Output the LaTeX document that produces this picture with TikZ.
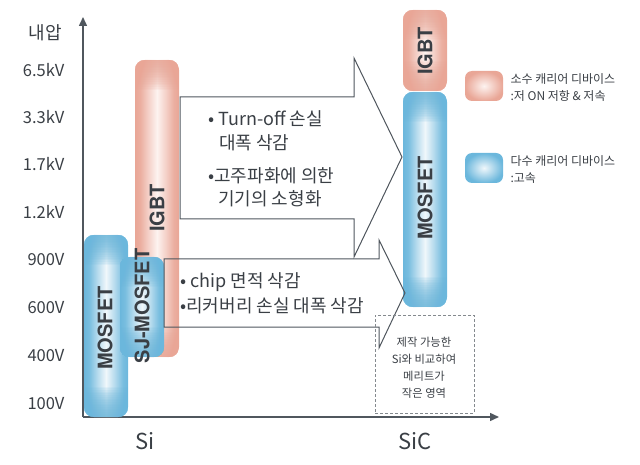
\documentclass[tikz,border=0pt]{standalone}
\usepackage{fontspec}
\setmainfont{Noto Sans CJK KR}
\newfontfamily\labfont{TeX Gyre Heros}
\usetikzlibrary{arrows.meta,calc}
\definecolor{bl}{HTML}{6BB7DC}
\definecolor{bll}{HTML}{F0F7FB}
\definecolor{rd}{HTML}{E9A696}
\definecolor{rdl}{HTML}{FDF3F0}
\definecolor{ax}{HTML}{50575E}
\definecolor{tx}{HTML}{3A3F45}
\definecolor{ln}{HTML}{4F565D}
\pgfdeclarehorizontalshading{blueH}{100bp}{color(0bp)=(bl); color(25bp)=(bl); color(31bp)=(bl!90!white); color(40bp)=(bl!45!bll); color(50bp)=(bll); color(60bp)=(bl!45!bll); color(69bp)=(bl!90!white); color(75bp)=(bl); color(100bp)=(bl)}
\pgfdeclarehorizontalshading{redH}{100bp}{color(0bp)=(rd); color(25bp)=(rd); color(31bp)=(rd!90!white); color(40bp)=(rd!45!rdl); color(50bp)=(rdl); color(60bp)=(rd!45!rdl); color(69bp)=(rd!90!white); color(75bp)=(rd); color(100bp)=(rd)}
\tikzset{
  bar/.style={rounded corners=10pt, minimum width=44pt, inner sep=0pt, draw=none},
  bluebar/.style={bar, shading=blueH},
  redbar/.style={bar, shading=redH},
  barlabel/.style={rotate=90, font=\labfont\bfseries\fontsize{20}{20}\selectfont, text=tx},
  ylab/.style={anchor=east, font=\fontsize{16.5}{16.5}\selectfont, text=tx},
  axisline/.style={draw=ax, line width=1.5pt, -{Triangle[length=9pt,width=8pt]}},
  bigarrow/.style={draw=ln, line width=1pt, line join=miter},
  body/.style={anchor=west, font=\fontsize{18}{18}\selectfont, text=tx, inner sep=0pt},
  small/.style={font=\fontsize{11.3}{17}\selectfont, text=tx, align=center},
  legtext/.style={font=\fontsize{12}{17}\selectfont, text=tx, align=left, anchor=west},
  legbox/.style={rounded corners=7pt, minimum width=38pt, minimum height=30pt, inner sep=0pt, draw=none},
  xlab/.style={font=\fontsize{22}{22}\selectfont, text=tx}
}
% soft colored caps at both ends of a bar (layers of low opacity)
\newcommand{\barcaps}[2]{%
  \begin{scope}
    \clip[rounded corners=10pt] (#2.north west) rectangle (#2.south east);
    \foreach \k in {1,...,18} {
      \fill[#1, opacity=0.095] (#2.north west) rectangle ($(#2.north east)+(0,\k*1.7)$);
      \fill[#1, opacity=0.095] (#2.south west) rectangle ($(#2.south east)+(0,-\k*1.7)$);
    }
  \end{scope}}
\begin{document}
\begin{tikzpicture}[x=1pt,y=-1pt]
\useasboundingbox (0,0) rectangle (640,465);
% axes
\coordinate (O) at (83,417);
\coordinate (Ytop) at (83,17);
\coordinate (Xend) at (499,417);
\draw[axisline] (O) -- (Ytop);
\draw[axisline] (O) -- (Xend);
\node[font=\fontsize{18}{18}\selectfont, text=tx] (ytitle) at (45,33) {내압};
\node[ylab] (y1) at (68,70) {6.5kV};
\node[ylab] (y2) at (68,117) {3.3kV};
\node[ylab] (y3) at (68,164) {1.7kV};
\node[ylab] (y4) at (68,212) {1.2kV};
\node[ylab] (y5) at (68,260) {900V};
\node[ylab] (y6) at (68,308) {600V};
\node[ylab] (y7) at (68,356) {400V};
\node[ylab] (y8) at (68,404) {100V};
\node[xlab] (si) at (145,441) {Si};
\node[xlab] (sic) at (415,441) {SiC};
% Si bars
\node[redbar, minimum height=297pt] (igbtSi) at (157,208.5) {};
\barcaps{rd}{igbtSi}
\node[bluebar, minimum height=182pt] (mosSi) at (106,326) {};
\barcaps{bl}{mosSi}
\node[bluebar, minimum height=100pt] (sjSi) at (142,307) {};
\barcaps{bl}{sjSi}
\node[barlabel] (igbtSiL) at (157,208) {IGBT};
\node[barlabel] (mosSiL) at (105,328) {MOSFET};
\node[barlabel] (sjSiL) at (142,306) {SJ-MOSFET};
% SiC bars
\node[redbar, minimum height=81pt] (igbtSiC) at (425,50.5) {};
\barcaps{rd}{igbtSiC}
\node[bluebar, minimum height=215pt] (mosSiC) at (425,199.5) {};
\barcaps{bl}{mosSiC}
\node[barlabel] (igbtSiCL) at (425,51) {IGBT};
\node[barlabel] (mosSiCL) at (425,198) {MOSFET};
% big arrows
\draw[bigarrow] (180,97) -- (354,97) -- (354,58) -- (402,157) -- (354,257) -- (354,219) -- (180,219) -- cycle;
\draw[bigarrow] (164,259) -- (379,259) -- (379,240) -- (405,293) -- (379,348) -- (379,327) -- (164,327) -- cycle;
\node[body] (t1) at (208,119) {• Turn-off 손실};
\node[body] (t2) at (219,143) {대폭 삭감};
\node[body] (t3) at (208,176) {•고주파화에 의한};
\node[body] (t4) at (218,199) {기기의 소형화};
\node[body] (t5) at (180,282) {• chip 면적 삭감};
\node[body] (t6) at (180,306) {•리커버리 손실 대폭 삭감};
% dashed note
\node[draw=ln!70, dash pattern=on 3pt off 2pt, line width=0.7pt, minimum width=99pt, minimum height=98pt, inner sep=0pt] (note) at (424.5,364) {};
\node[small] (noteT) at (424,368) {제작 가능한\\Si와 비교하여\\메리트가\\작은 영역};
% legend
\node[legbox, inner color=rdl, outer color=rd] (legR) at (484,86) {};
\node[legbox, inner color=bll, outer color=bl] (legB) at (484,168) {};
\node[legtext] (legRT) at (507,88) {소수 캐리어 디바이스\\:저 ON 저항 \& 저속};
\node[legtext] (legBT) at (507,170) {다수 캐리어 디바이스\\:고속};
\end{tikzpicture}
\end{document}
